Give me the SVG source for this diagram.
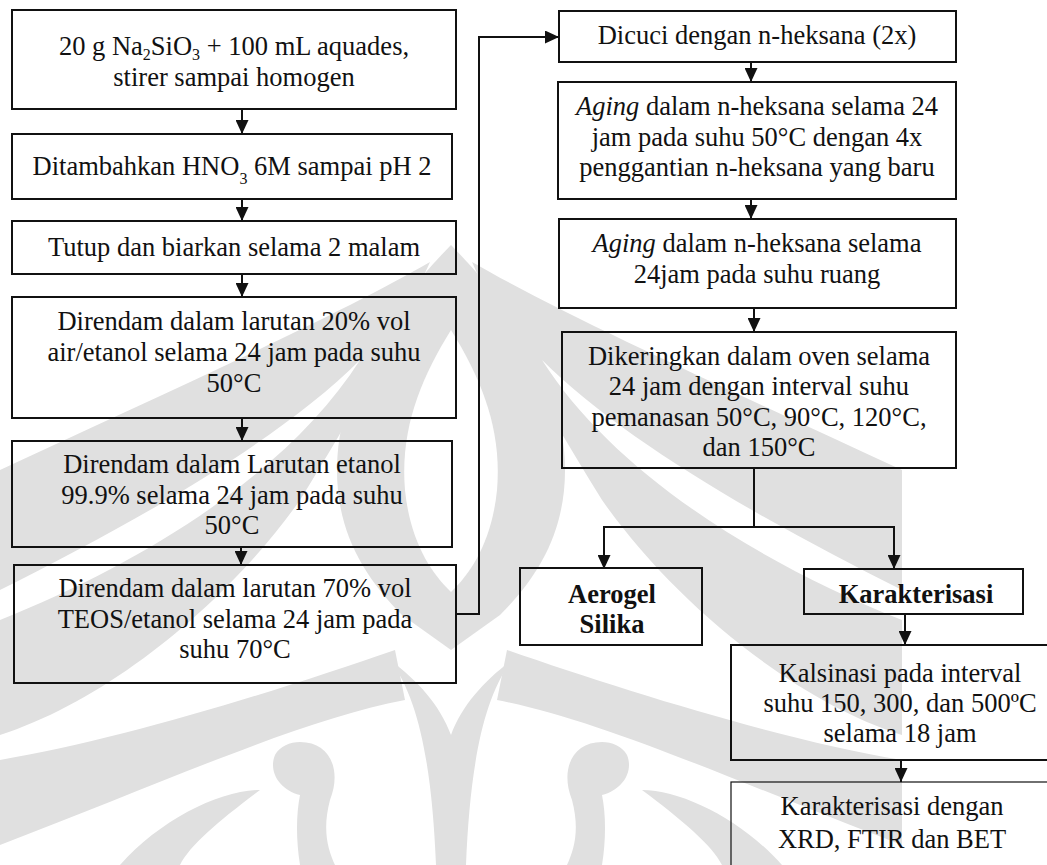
<svg xmlns="http://www.w3.org/2000/svg" width="1047" height="865" viewBox="0 0 1047 865">
<defs>
<style>
.box{fill:none;stroke:#111;stroke-width:2}
.thin{fill:none;stroke:#111;stroke-width:1.2}
.t{font-family:"Liberation Serif","Times New Roman",serif;font-size:26.5px;fill:#111;text-anchor:middle}
.b{font-weight:bold}
.i{font-style:italic}
.sub{font-size:16px}
.ln{fill:none;stroke:#111;stroke-width:2}
.wmf{fill:#e0e0e0}
.wmw{fill:#fff}
</style>
<marker id="ah" viewBox="0 0 14 13" refX="14" refY="6.5" markerWidth="14" markerHeight="13" markerUnits="userSpaceOnUse" orient="auto">
<path d="M0,0 L14,6.5 L0,13 Z" fill="#111"/>
</marker>
</defs>
<rect width="1047" height="865" fill="#fff"/>
<g id="watermark">
<g id="wm-left">
<path class="wmf" d="M430 262 C330 320 150 400 0 470 L0 735 C110 700 230 600 300 500 C350 420 400 330 430 262 Z"/>
<path class="wmw" d="M360 360 C280 440 140 520 0 590 L0 620 C150 560 290 470 360 360 Z"/>
<path class="wmf" d="M0 760 C120 740 280 690 395 650 L405 700 C300 720 170 780 0 845 Z"/>
<path class="wmf" d="M300 742 C330 742 342 770 330 800 C322 830 328 850 335 865 L300 865 C296 840 296 815 300 795 C280 790 268 772 275 755 C280 746 290 742 300 742 Z"/>
<path class="wmf" d="M120 865 C160 820 220 790 260 790 C220 820 190 845 180 865 Z"/>
</g>
<use href="#wm-left" transform="translate(902,0) scale(-1,1)"/>
<path class="wmf" d="M451 245 C505 300 565 380 565 470 C565 530 540 575 500 615 L451 650 L402 615 C362 575 337 530 337 470 C337 380 397 300 451 245 Z"/>
<path class="wmw" d="M451 330 C482 380 502 430 497 490 C492 540 472 572 451 592 C430 572 410 540 405 490 C400 430 420 380 451 330 Z"/>
<path class="wmf" d="M390 660 C420 700 432 770 436 865 L466 865 C470 770 482 700 512 660 C485 680 462 705 451 735 C440 705 417 680 390 660 Z"/>
</g>
<g id="connectors">
<path class="ln" d="M242 109 V134" marker-end="url(#ah)"/>
<path class="ln" d="M242 199 V221" marker-end="url(#ah)"/>
<path class="ln" d="M242 274 V297" marker-end="url(#ah)"/>
<path class="ln" d="M242 418 V441" marker-end="url(#ah)"/>
<path class="ln" d="M241 547 V565" marker-end="url(#ah)"/>
<path class="ln" d="M456 614 H479 V37 H559" marker-end="url(#ah)"/>
<path class="ln" d="M751 62 V82" marker-end="url(#ah)"/>
<path class="ln" d="M751 199 V219" marker-end="url(#ah)"/>
<path class="ln" d="M754 308 V332" marker-end="url(#ah)"/>
<path class="ln" d="M754 468 V527 M604 527 H894"/>
<path class="ln" d="M604 526 V569" marker-end="url(#ah)"/>
<path class="ln" d="M894 526 V569" marker-end="url(#ah)"/>
<path class="ln" d="M905 614 V645" marker-end="url(#ah)"/>
<path class="ln" d="M901 760 V782" marker-end="url(#ah)"/>
</g>
<g id="n1"><rect class="box" x="12" y="10" width="444" height="99"/>
<text class="t" x="234" y="55">20 g Na<tspan class="sub" dy="5">2</tspan><tspan dy="-5">SiO</tspan><tspan class="sub" dy="5">3</tspan><tspan dy="-5"> + 100 mL aquades,</tspan></text>
<text class="t" x="234" y="86">stirer sampai homogen</text></g>
<g id="n2"><rect class="box" x="12" y="134" width="440" height="65"/>
<text class="t" x="232" y="175">Ditambahkan HNO<tspan class="sub" dy="9">3</tspan><tspan dy="-9"> 6M sampai pH 2</tspan></text></g>
<g id="n3"><rect class="box" x="12" y="221" width="444" height="53"/>
<text class="t" x="234" y="256">Tutup dan biarkan selama 2 malam</text></g>
<g id="n4"><rect class="box" x="12" y="297" width="444" height="121"/>
<text class="t" x="234" y="330">Direndam dalam larutan 20% vol</text>
<text class="t" x="234" y="361">air/etanol selama 24 jam pada suhu</text>
<text class="t" x="234" y="392">50°C</text></g>
<g id="n5"><rect class="box" x="12" y="441" width="440" height="106"/>
<text class="t" x="232" y="473">Direndam dalam Larutan etanol</text>
<text class="t" x="232" y="504">99.9% selama 24 jam pada suhu</text>
<text class="t" x="232" y="534">50°C</text></g>
<g id="n6"><rect class="box" x="14" y="565" width="442" height="118"/>
<text class="t" x="235" y="597">Direndam dalam larutan 70% vol</text>
<text class="t" x="235" y="628">TEOS/etanol selama 24 jam pada</text>
<text class="t" x="235" y="658">suhu 70°C</text></g>
<g id="n7"><rect class="box" x="559" y="11" width="397" height="51"/>
<text class="t" x="757" y="44">Dicuci dengan n-heksana (2x)</text></g>
<g id="n8"><rect class="box" x="558" y="82" width="398" height="117"/>
<text class="t" x="757" y="115"><tspan class="i">Aging</tspan> dalam n-heksana selama 24</text>
<text class="t" x="757" y="146">jam pada suhu 50°C dengan 4x</text>
<text class="t" x="757" y="176">penggantian n-heksana yang baru</text></g>
<g id="n9"><rect class="box" x="559" y="219" width="397" height="89"/>
<text class="t" x="757" y="252"><tspan class="i">Aging</tspan> dalam n-heksana selama</text>
<text class="t" x="757" y="283">24jam pada suhu ruang</text></g>
<g id="n10"><rect class="box" x="562" y="332" width="394" height="136"/>
<text class="t" x="759" y="365">Dikeringkan dalam oven selama</text>
<text class="t" x="759" y="395">24 jam dengan interval suhu</text>
<text class="t" x="759" y="426">pemanasan 50°C, 90°C, 120°C,</text>
<text class="t" x="759" y="456">dan 150°C</text></g>
<g id="n11"><rect class="box" x="520" y="568" width="182" height="77"/>
<text class="t b" x="612" y="603">Aerogel</text>
<text class="t b" x="612" y="633">Silika</text></g>
<g id="n12"><rect class="box" x="804" y="569" width="219" height="45"/>
<text class="t b" x="916" y="603">Karakterisasi</text></g>
<g id="n13"><rect class="box" x="731" y="645" width="330" height="115"/>
<text class="t" x="900" y="682">Kalsinasi pada interval</text>
<text class="t" x="900" y="712">suhu 150, 300, dan 500ºC</text>
<text class="t" x="900" y="742">selama 18 jam</text></g>
<g id="n14"><rect class="thin" x="731" y="782" width="330" height="110"/>
<text class="t" x="892" y="815">Karakterisasi dengan</text>
<text class="t" x="892" y="848">XRD, FTIR dan BET</text></g>
</svg>
